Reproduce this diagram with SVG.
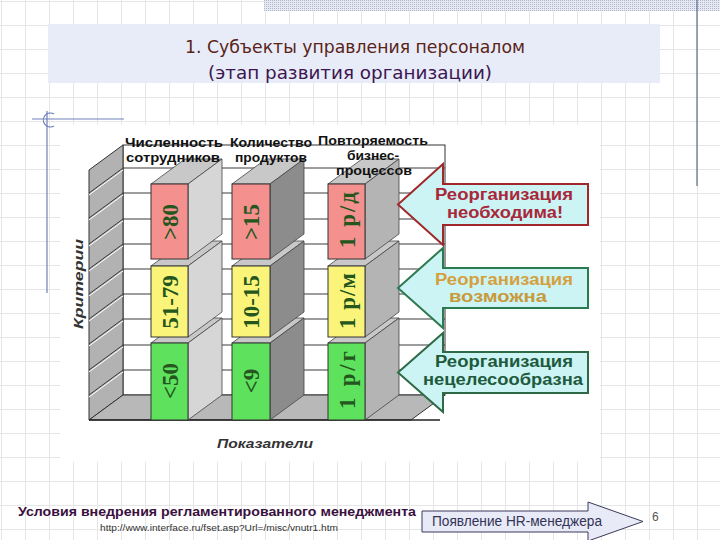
<svg xmlns="http://www.w3.org/2000/svg" width="720" height="540" viewBox="0 0 720 540">
<defs>
<pattern id="grid" width="24" height="24" patternUnits="userSpaceOnUse" x="1" y="1"><path d="M0 0.5H24M0.5 0V24" stroke="#e6e6e6" stroke-width="1" fill="none"/></pattern>
<pattern id="dots" width="2" height="2" patternUnits="userSpaceOnUse"><rect width="2" height="2" fill="#e6e9f2"/><rect width="1" height="1" fill="#aeb7cc"/></pattern>
<style>
.hdr{font-family:"Liberation Sans",Arial,sans-serif;font-weight:bold;font-size:13px;fill:#111}
.val{font-family:"Liberation Serif","Times New Roman",serif;font-weight:bold;font-size:23px;fill:#24561e}
.front{stroke:#333;stroke-width:1}
.top{fill:#c8c8c8;stroke:#444;stroke-width:0.8}
.side{stroke:#444;stroke-width:0.8}
.axis{font-family:"Liberation Sans",Arial,sans-serif;font-weight:bold;font-style:italic;font-size:13px;fill:#333}
.arr{fill:#ccf4f4;stroke-width:2}
.atx{font-family:"Liberation Sans",Arial,sans-serif;font-weight:bold;font-size:16px;text-anchor:middle}
.wl{stroke:#3a3a3a;stroke-width:1}
.wh{stroke:#ffffff;stroke-width:1}
</style>
</defs>
<rect width="720" height="540" fill="#ffffff"/>
<rect width="720" height="540" fill="url(#grid)"/>
<rect x="264" y="0" width="456" height="11" fill="url(#dots)"/>
<line x1="697" y1="0" x2="697" y2="186" stroke="#5a6a8a" stroke-width="1.2"/>

<g id="title">
<rect x="48" y="24" width="612" height="59" fill="#e8ecf8"/>
<text x="355" y="53" text-anchor="middle" font-family="'DejaVu Sans Condensed','Liberation Sans',sans-serif" font-size="18" fill="#5a2418" textLength="340" lengthAdjust="spacingAndGlyphs">1. Субъекты управления персоналом</text>
<text x="350" y="79" text-anchor="middle" font-family="'DejaVu Sans Condensed','Liberation Sans',sans-serif" font-size="18" fill="#3c1650" textLength="284" lengthAdjust="spacingAndGlyphs">(этап развития организации)</text>
</g>

<g id="corner-mark" fill="none" stroke="#6f80b8" stroke-width="1.2">
<line x1="32" y1="119" x2="124" y2="119"/>
<line x1="47" y1="111" x2="47" y2="293"/>
<path d="M54 114 A7 7 0 1 0 54 126"/>
</g>

<rect x="60" y="125" width="540" height="337" fill="#ffffff"/>

<g id="chart-frame">
<rect x="123" y="145" width="322" height="250" fill="#ffffff" stroke="#333" stroke-width="1"/>
<g class="wl">
<line x1="123" y1="168" x2="445" y2="168"/><line x1="123" y1="193" x2="445" y2="193"/>
<line x1="123" y1="219" x2="445" y2="219"/><line x1="123" y1="244" x2="445" y2="244"/>
<line x1="123" y1="269" x2="445" y2="269"/><line x1="123" y1="294" x2="445" y2="294"/>
<line x1="123" y1="319" x2="445" y2="319"/><line x1="123" y1="345" x2="445" y2="345"/>
<line x1="123" y1="370" x2="445" y2="370"/>
</g>
<polygon points="89,170 123,145 123,395 89,420" fill="#b2b2b2" stroke="#333" stroke-width="1"/>
<g class="wl">
<line x1="123" y1="168" x2="89" y2="193"/><line x1="123" y1="193" x2="89" y2="218"/>
<line x1="123" y1="219" x2="89" y2="244"/><line x1="123" y1="244" x2="89" y2="269"/>
<line x1="123" y1="269" x2="89" y2="294"/><line x1="123" y1="294" x2="89" y2="319"/>
<line x1="123" y1="319" x2="89" y2="344"/><line x1="123" y1="345" x2="89" y2="370"/>
<line x1="123" y1="370" x2="89" y2="395"/>
</g>
<g class="wh">
<line x1="123" y1="170" x2="89" y2="195"/><line x1="123" y1="195" x2="89" y2="220"/>
<line x1="123" y1="221" x2="89" y2="246"/><line x1="123" y1="246" x2="89" y2="271"/>
<line x1="123" y1="271" x2="89" y2="296"/><line x1="123" y1="296" x2="89" y2="321"/>
<line x1="123" y1="321" x2="89" y2="346"/><line x1="123" y1="347" x2="89" y2="372"/>
<line x1="123" y1="372" x2="89" y2="397"/>
</g>
<polygon points="89,420 411,420 445,395 123,395" fill="#b8b8b8" stroke="#333" stroke-width="1"/>
<line x1="89" y1="420" x2="440" y2="420" stroke="#222" stroke-width="1.5"/>
</g>

<g id="col-staff">
<polygon class="top" points="151,343 188,343 222,318 185,318"/>
<polygon class="side" fill="#d6d6d6" points="188,343 222,318 222,395 188,420"/>
<rect class="front" x="151" y="343" width="37" height="77" fill="#5ee25e"/>
<polygon class="top" points="151,266 188,266 222,241 185,241"/>
<polygon class="side" fill="#d6d6d6" points="188,266 222,241 222,312 188,337"/>
<rect class="front" x="151" y="266" width="37" height="71" fill="#faf57a"/>
<polygon class="top" points="151,184 188,184 222,159 185,159"/>
<polygon class="side" fill="#d6d6d6" points="188,184 222,159 222,234 188,259"/>
<rect class="front" x="151" y="184" width="37" height="75" fill="#f4918f"/>
<text class="val" transform="translate(169.5,222) rotate(-90)" x="0" y="8" text-anchor="middle">&gt;80</text>
<text class="val" transform="translate(169.5,302) rotate(-90)" x="0" y="8" text-anchor="middle">51-79</text>
<text class="val" transform="translate(169.5,381) rotate(-90)" x="0" y="8" text-anchor="middle">&lt;50</text>
</g>

<g id="col-products">
<polygon class="top" points="232,343 270,343 304,318 266,318"/>
<polygon class="side" fill="#8c8c8c" points="270,343 304,318 304,395 270,420"/>
<rect class="front" x="232" y="343" width="38" height="77" fill="#5ee25e"/>
<polygon class="top" points="232,266 270,266 304,241 266,241"/>
<polygon class="side" fill="#8c8c8c" points="270,266 304,241 304,312 270,337"/>
<rect class="front" x="232" y="266" width="38" height="71" fill="#faf57a"/>
<polygon class="top" points="232,184 270,184 304,159 266,159"/>
<polygon class="side" fill="#8c8c8c" points="270,184 304,159 304,234 270,259"/>
<rect class="front" x="232" y="184" width="38" height="75" fill="#f4918f"/>
<text class="val" transform="translate(251,222) rotate(-90)" x="0" y="8" text-anchor="middle">&gt;15</text>
<text class="val" transform="translate(251,302) rotate(-90)" x="0" y="8" text-anchor="middle">10-15</text>
<text class="val" transform="translate(251,381) rotate(-90)" x="0" y="8" text-anchor="middle">&lt;9</text>
</g>

<g id="col-processes">
<polygon class="top" points="328,343 365,343 399,318 362,318"/>
<polygon class="side" fill="#b4b4b4" points="365,343 399,318 399,395 365,420"/>
<rect class="front" x="328" y="343" width="37" height="77" fill="#5ee25e"/>
<polygon class="top" points="328,266 365,266 399,241 362,241"/>
<polygon class="side" fill="#b4b4b4" points="365,266 399,241 399,312 365,337"/>
<rect class="front" x="328" y="266" width="37" height="71" fill="#faf57a"/>
<polygon class="top" points="328,184 365,184 399,159 362,159"/>
<polygon class="side" fill="#b4b4b4" points="365,184 399,159 399,234 365,259"/>
<rect class="front" x="328" y="184" width="37" height="75" fill="#f4918f"/>
<text class="val" transform="translate(346.5,220) rotate(-90)" x="0" y="8" text-anchor="middle" textLength="56" lengthAdjust="spacing">1 р/д</text>
<text class="val" transform="translate(346.5,301) rotate(-90)" x="0" y="8" text-anchor="middle" textLength="56" lengthAdjust="spacing">1 р/м</text>
<text class="val" transform="translate(346.5,380) rotate(-90)" x="0" y="8" text-anchor="middle" textLength="58" lengthAdjust="spacing">1 р/г</text>
</g>

<g id="headers">
<text class="hdr" x="125" y="147" textLength="98" lengthAdjust="spacingAndGlyphs">Численность</text>
<text class="hdr" x="126" y="162" textLength="94" lengthAdjust="spacingAndGlyphs">сотрудников</text>
<text class="hdr" x="230" y="147" textLength="82" lengthAdjust="spacingAndGlyphs">Количество</text>
<text class="hdr" x="235" y="162" textLength="72" lengthAdjust="spacingAndGlyphs">продуктов</text>
<text class="hdr" x="318" y="145" font-size="12.5" textLength="110" lengthAdjust="spacingAndGlyphs">Повторяемость</text>
<text class="hdr" x="347" y="160" font-size="11" textLength="52" lengthAdjust="spacingAndGlyphs">бизнес-</text>
<text class="hdr" x="336" y="175" font-size="11" textLength="76" lengthAdjust="spacingAndGlyphs">процессов</text>
</g>

<g id="axis-labels">
<text class="axis" transform="translate(83,284) rotate(-90)" text-anchor="middle" textLength="90" lengthAdjust="spacingAndGlyphs">Критерии</text>
<text class="axis" x="265" y="448" text-anchor="middle" textLength="96" lengthAdjust="spacingAndGlyphs">Показатели</text>
</g>

<g id="connectors">
<g id="arrow-necessary">
<polygon class="arr" stroke="#a0282a" points="443,184 588,184 588,225 443,225 443,245 398,204.5 443,164"/>
<text class="atx" x="504" y="200" fill="#a8283a" textLength="138" lengthAdjust="spacingAndGlyphs">Реорганизация</text>
<text class="atx" x="505" y="218" fill="#a8283a" textLength="116" lengthAdjust="spacingAndGlyphs">необходима!</text>
</g>
<g id="arrow-possible">
<polygon class="arr" stroke="#2e7a50" points="443,268 588,268 588,308 443,308 443,328 398,288 443,248"/>
<text class="atx" x="504" y="285" fill="#d4a040" textLength="138" lengthAdjust="spacingAndGlyphs">Реорганизация</text>
<text class="atx" x="498" y="302" fill="#c89a3c" textLength="98" lengthAdjust="spacingAndGlyphs">возможна</text>
</g>
<g id="arrow-inexpedient">
<polygon class="arr" stroke="#2e6a46" points="443,352 588,352 588,393 443,393 443,412 398,372.5 443,333"/>
<text class="atx" x="504" y="367" fill="#1e5a3c" textLength="138" lengthAdjust="spacingAndGlyphs">Реорганизация</text>
<text class="atx" x="503" y="385" fill="#1e5a3c" textLength="160" lengthAdjust="spacingAndGlyphs">нецелесообразна</text>
</g>
</g>

<g id="footer">
<text x="18" y="516" font-family="'Liberation Sans',Arial,sans-serif" font-weight="bold" font-size="13" fill="#3a1040" textLength="398" lengthAdjust="spacingAndGlyphs">Условия внедрения регламентированного менеджмента</text>
<text x="100" y="531" font-family="'Liberation Sans',Arial,sans-serif" font-size="8.5" fill="#333" textLength="238" lengthAdjust="spacingAndGlyphs">http://www.interface.ru/fset.asp?Url=/misc/vnutr1.htm</text>
</g>

<g id="hr-arrow">
<polygon points="422,511 588,511 588,502 643,521.5 588,541 588,532 422,532" fill="#e8eaf8" stroke="#3a3a5a" stroke-width="1"/>
<text x="432" y="526" font-family="'Liberation Sans',Arial,sans-serif" font-size="14" fill="#333355" textLength="170" lengthAdjust="spacingAndGlyphs">Появление HR-менеджера</text>
</g>
<text id="page-num" x="652" y="521" font-family="'Liberation Sans',Arial,sans-serif" font-size="12" fill="#555">6</text>
</svg>
